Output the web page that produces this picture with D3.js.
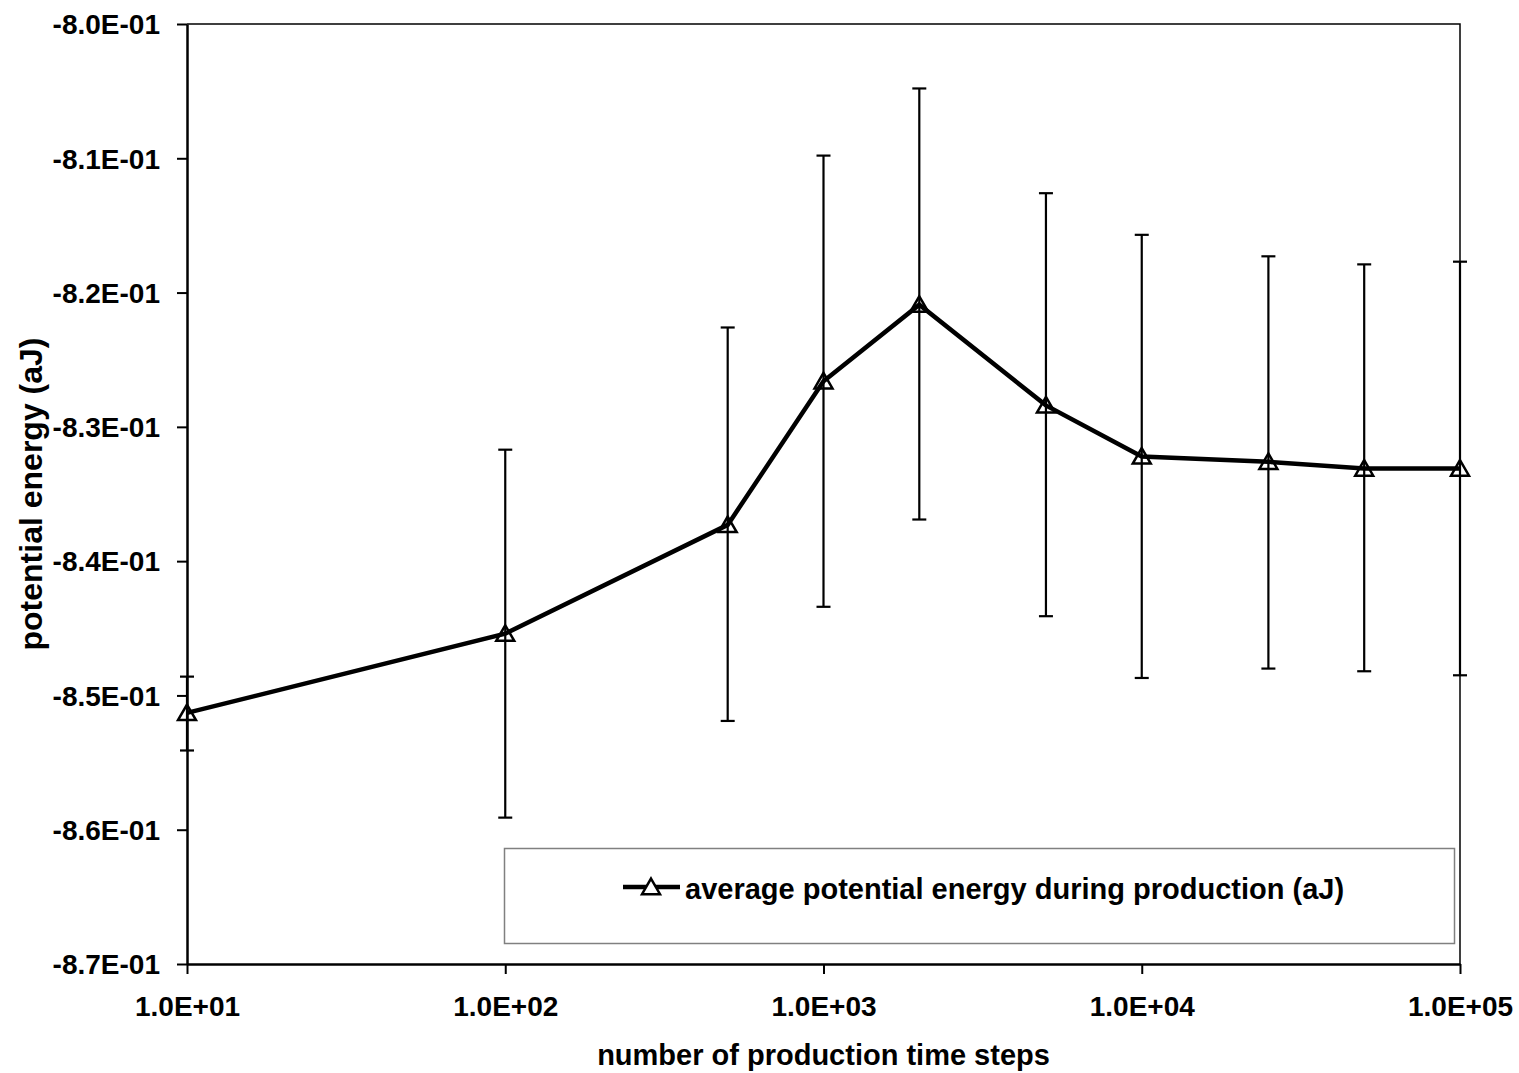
<!DOCTYPE html>
<html>
<head>
<meta charset="utf-8">
<script src="https://cdn.jsdelivr.net/npm/d3@7"></script>
<style>
  body { margin: 0; background: #fff; }
  text { font-family: "Liberation Sans", Arial, sans-serif; font-weight: bold; }
</style>
</head>
<body>
<div id="chart"></div>
<script>
// potential energy vs number of production time steps
const steps = [10, 100, 500, 1000, 2000, 5000, 10000, 25000, 50000, 100000];
const energy = [-0.8513, -0.8454, -0.8373, -0.8266, -0.8209, -0.8284, -0.8322, -0.8326, -0.8331, -0.8331];
const errUp = [0.0027, 0.0137, 0.0147, 0.0168, 0.0161, 0.0158, 0.0165, 0.0153, 0.0152, 0.0154];
const errDown = [0.0028, 0.0137, 0.0146, 0.0168, 0.0160, 0.0157, 0.0165, 0.0154, 0.0151, 0.0154];
const yTicks = [-0.80, -0.81, -0.82, -0.83, -0.84, -0.85, -0.86, -0.87];
const yTickLabels = ['-8.0E-01', '-8.1E-01', '-8.2E-01', '-8.3E-01', '-8.4E-01', '-8.5E-01', '-8.6E-01', '-8.7E-01'];
const xTicks = [1e1, 1e2, 1e3, 1e4, 1e5];
const xTickLabels = ['1.0E+01', '1.0E+02', '1.0E+03', '1.0E+04', '1.0E+05'];
const seriesName = 'average potential energy during production (aJ)';

const W = 1519, H = 1073;
const margin = {top: 24, right: 59, bottom: 109, left: 187};
const width = W - margin.left - margin.right;
const height = H - margin.top - margin.bottom;

const svg = d3.select('#chart').append('svg').attr('width', W).attr('height', H);
const g = svg.append('g').attr('transform', `translate(${margin.left},${margin.top})`);

const x = d3.scaleLog().domain([10, 1e5]).range([0, width]);
const y = d3.scaleLinear().domain([-0.87, -0.80]).range([height, 0]);

// plot frame (top and right)
g.append('path')
  .attr('d', `M0,0H${width}V${height}`)
  .attr('fill', 'none').attr('stroke', '#000').attr('stroke-width', 1.5);

// axes
const yAxis = g.append('g')
  .call(d3.axisLeft(y).tickValues(yTicks).tickSize(10).tickSizeOuter(0)
    .tickFormat((d, i) => yTickLabels[i]));
const xAxis = g.append('g').attr('transform', `translate(0,${height})`)
  .call(d3.axisBottom(x).tickValues(xTicks).tickSize(10).tickSizeOuter(0)
    .tickFormat((d, i) => xTickLabels[i]));
[yAxis, xAxis].forEach(a => {
  a.select('.domain').attr('stroke-width', 2.5);
  a.selectAll('.tick line').attr('stroke-width', 2);
  a.selectAll('.tick text').attr('font-size', 28).attr('fill', '#000')
    .style('font-family', '"Liberation Sans", Arial, sans-serif').style('font-weight', 'bold');
});
yAxis.selectAll('.tick text').attr('x', -27).attr('dy', '0.35em');
xAxis.selectAll('.tick text').attr('y', 32).attr('dy', '0.71em');

const pts = steps.map((s, i) => ({s, e: energy[i], hi: energy[i] + errUp[i], lo: energy[i] - errDown[i]}));

// error bars
const eb = g.append('g').attr('stroke', '#000').attr('stroke-width', 2.2);
eb.selectAll('line.v').data(pts).enter().append('line')
  .attr('x1', d => x(d.s)).attr('x2', d => x(d.s))
  .attr('y1', d => y(d.hi)).attr('y2', d => y(d.lo));
eb.selectAll('line.cu').data(pts).enter().append('line')
  .attr('x1', d => x(d.s) - 7).attr('x2', d => x(d.s) + 7)
  .attr('y1', d => y(d.hi)).attr('y2', d => y(d.hi));
eb.selectAll('line.cd').data(pts).enter().append('line')
  .attr('x1', d => x(d.s) - 7).attr('x2', d => x(d.s) + 7)
  .attr('y1', d => y(d.lo)).attr('y2', d => y(d.lo));

// series line
g.append('path').datum(pts)
  .attr('fill', 'none').attr('stroke', '#000').attr('stroke-width', 4.5)
  .attr('d', d3.line().x(d => x(d.s)).y(d => y(d.e)));

const tri = d3.symbol().type(d3.symbolTriangle).size(140);
g.selectAll('path.marker').data(pts).enter().append('path')
  .attr('class', 'marker')
  .attr('transform', d => `translate(${x(d.s)},${y(d.e) + 2})`)
  .attr('d', tri).attr('fill', 'none').attr('stroke', '#000').attr('stroke-width', 2.5);

// legend
const lg = svg.append('g');
lg.append('rect').attr('x', 504.5).attr('y', 848.5).attr('width', 950).attr('height', 95)
  .attr('fill', '#fff').attr('stroke', '#808080').attr('stroke-width', 1.5);
lg.append('line').attr('x1', 623).attr('x2', 680).attr('y1', 887).attr('y2', 887)
  .attr('stroke', '#000').attr('stroke-width', 4.5);
lg.append('path').attr('transform', 'translate(651,889)').attr('d', tri)
  .attr('fill', '#fff').attr('stroke', '#000').attr('stroke-width', 2.5);
lg.append('text').attr('x', 685).attr('y', 899).attr('font-size', 29).text(seriesName);

// axis titles
svg.append('text').attr('x', margin.left + width / 2).attr('y', 1065)
  .attr('text-anchor', 'middle').attr('font-size', 29).text('number of production time steps');
svg.append('text').attr('transform', `translate(42,${margin.top + height / 2}) rotate(-90)`)
  .attr('text-anchor', 'middle').attr('font-size', 32).text('potential energy (aJ)');
</script>
</body>
</html>
